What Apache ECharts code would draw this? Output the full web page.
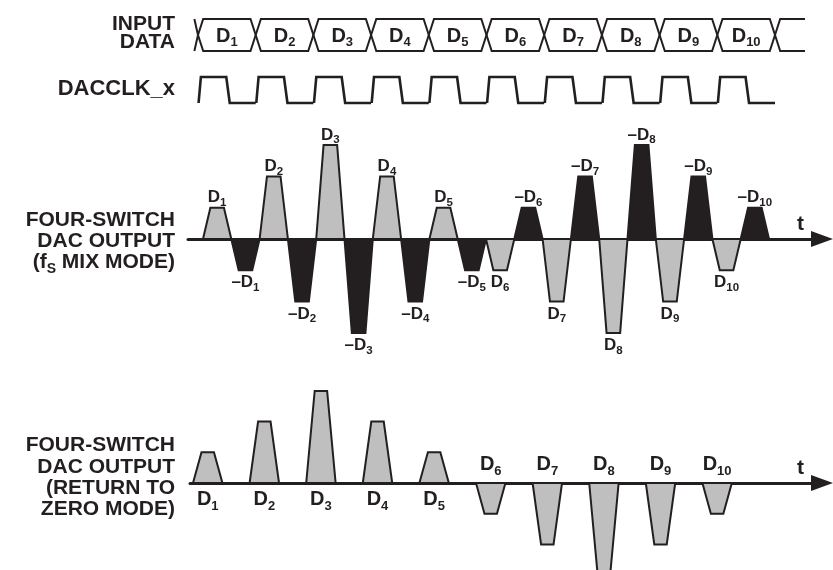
<!DOCTYPE html>
<html>
<head>
<meta charset="utf-8">
<script src="https://cdn.jsdelivr.net/npm/echarts@6/dist/echarts.min.js"></script>
<style>
html, body { margin: 0; padding: 0; background: #fff; }
#chart { width: 833px; height: 570px; }
</style>
</head>
<body>
<div id="chart"></div>
<script>
// data words D1..D10 and their relative DAC code (sign + height)
const wordIndex = ['1', '2', '3', '4', '5', '6', '7', '8', '9', '10'];
const wordCode = [1, 2, 3, 2, 1, -1, -2, -3, -2, -1];
const clockCycles = [0, 1, 2, 3, 4, 5, 6, 7, 8, 9];

const busLabel = ['INPUT', 'DATA'];
const clockLabel = 'DACCLK_x';
const mixLabel = ['FOUR-SWITCH', 'DAC OUTPUT', '{a|(f}{s|S}{a| MIX MODE)}'];
const rzLabel = ['FOUR-SWITCH', 'DAC OUTPUT', '(RETURN TO', 'ZERO MODE)'];
const timeName = 't';

const FONT = '"Liberation Sans", Arial, Helvetica, sans-serif';
const INK = '#231f20';
const GRAY = '#bfbfbf';

// pixel layout of the rows
const BUS_P = 57.7, MIX_P = 56.6;
const MIX_X0 = 203, RZ_X0 = 193;
const MIX_Y0 = 239, MIX_U = 31.3;
const RZ_Y0 = 483, RZ_U = 30.7;

const chart = echarts.init(document.getElementById('chart'));

function richFor(big, small, lh, shift) {
  return {
    m: { fontSize: big, fontWeight: 'bold', fontFamily: FONT, fill: INK, lineHeight: lh, verticalAlign: 'middle' },
    s: { fontSize: small, fontWeight: 'bold', fontFamily: FONT, fill: INK, lineHeight: lh - 2 * shift, verticalAlign: 'bottom' }
  };
}
const richBig = richFor(20, 13, 26, 3);
const richSmall = richFor(17, 11.5, 22, 2.5);

function line(points, width) {
  return { type: 'polyline', shape: { points: points }, style: { fill: 'none', stroke: INK, lineWidth: width, lineJoin: 'miter' } };
}

// input data bus
function renderBus(params, api) {
  const k = api.value(0);
  const d = 0.09;
  const c = (t, v) => api.coord([t, v]);
  const kids = [{
    type: 'polygon',
    shape: { points: [c(k, 0), c(k + d, 1), c(k + 1 - d, 1), c(k + 1, 0), c(k + 1 - d, -1), c(k + d, -1)] },
    style: { fill: 'none', stroke: INK, lineWidth: 2 }
  }];
  if (params.dataIndex === 0) {
    kids.push(line([c(-d * 0.7, 1), c(0, 0), c(-d * 0.7, -1)], 2));
  }
  if (params.dataIndex === wordIndex.length - 1) {
    kids.push(line([c(k + 1, 0), c(k + 1 + d, 1), c(k + 1.52, 1)], 2));
    kids.push(line([c(k + 1, 0), c(k + 1 + d, -1), c(k + 1.52, -1)], 2));
  }
  const p = c(k + 0.5, 0);
  kids.push({
    type: 'text', x: p[0], y: p[1] + 1,
    style: { text: '{m|D}{s|' + wordIndex[params.dataIndex] + '}', rich: richBig, align: 'center', verticalAlign: 'middle' }
  });
  return { type: 'group', children: kids };
}

// DAC clock, one cycle per item
function renderClock(params, api) {
  const k = api.value(0);
  const c = (t, v) => api.coord([t, v]);
  return line([c(k + 0.01, 0), c(k + 0.05, 1), c(k + 0.49, 1), c(k + 0.55, 0), c(k + 1, 0)], 2.6);
}

// fS mix mode: each word gives +Dn then -Dn
const mixPulses = [];
wordCode.forEach(function (v, k) {
  mixPulses.push([k, v, k, 0]);
  mixPulses.push([k + 0.5, -v, k, 1]);
});
const rzPulses = wordCode.map(function (v, k) { return [k, v, k]; });

function renderMix(params, api) {
  const t0 = api.value(0), v = api.value(1), k = api.value(2), inv = api.value(3);
  const w = 0.5, s = 0.13;
  const c = (t, y) => api.coord([t, y]);
  const p = c(t0 + w / 2, v);
  const txt = (inv ? '{m|\u2013D}' : '{m|D}') + '{s|' + wordIndex[k] + '}';
  return {
    type: 'group',
    children: [
      { type: 'polygon', shape: { points: [c(t0, 0), c(t0 + s, v), c(t0 + w - s, v), c(t0 + w, 0)] },
        style: { fill: inv ? INK : GRAY, stroke: INK, lineWidth: 2 } },
      { type: 'text', x: p[0], y: v > 0 ? p[1] - 10 : p[1] + 12.5,
        style: { text: txt, rich: richSmall, align: 'center', verticalAlign: 'middle' } }
    ]
  };
}

function renderRz(params, api) {
  const t0 = api.value(0), v = api.value(1), k = api.value(2);
  const w = 0.52, s = 0.15;
  const c = (t, y) => api.coord([t, y]);
  const p = c(t0 + w / 2, 0);
  return {
    type: 'group',
    children: [
      { type: 'polygon', shape: { points: [c(t0, 0), c(t0 + s, v), c(t0 + w - s, v), c(t0 + w, 0)] },
        style: { fill: GRAY, stroke: INK, lineWidth: 2 } },
      { type: 'text', x: p[0], y: v > 0 ? p[1] + 16.5 : p[1] - 18.5,
        style: { text: '{m|D}{s|' + wordIndex[k] + '}', rich: richBig, align: 'center', verticalAlign: 'middle' } }
    ]
  };
}

function timeAxis(gridIndex, left, x0) {
  return {
    gridIndex: gridIndex, type: 'value',
    min: (left - x0) / MIX_P, max: (822 - x0) / MIX_P,
    axisLine: { show: true, onZero: true, symbol: ['none', 'triangle'], symbolSize: [16, 22],
      lineStyle: { color: INK, width: 3 } },
    axisTick: { show: false }, axisLabel: { show: false }, splitLine: { show: false },
    name: timeName, nameLocation: 'end', nameGap: -25,
    nameTextStyle: { fontSize: 21, fontWeight: 'bold', fontFamily: FONT, color: INK,
      align: 'left', verticalAlign: 'bottom', padding: [0, 0, 4, 0] }
  };
}
const hiddenY = (gi, mn, mx) => ({ gridIndex: gi, type: 'value', min: mn, max: mx, show: false });

function labelText(str, x, y, size) {
  return {
    type: 'text', x: x, y: y, silent: true,
    style: {
      text: str, fontSize: size, fontWeight: 'bold', fontFamily: FONT, fill: INK,
      align: 'right', verticalAlign: 'middle',
      rich: {
        a: { fontSize: size, fontWeight: 'bold', fontFamily: FONT, fill: INK, lineHeight: 28, verticalAlign: 'middle' },
        s: { fontSize: 14, fontWeight: 'bold', fontFamily: FONT, fill: INK, lineHeight: 14, verticalAlign: 'bottom' }
      }
    }
  };
}

const graphics = [];
busLabel.forEach((s, i) => graphics.push(labelText(s, 175, 24 + i * 18.5, 21)));
graphics.push(labelText(clockLabel, 175, 89, 22));
mixLabel.forEach((s, i) => graphics.push(labelText(s, 175, 220.5 + i * 21, 21)));
rzLabel.forEach((s, i) => graphics.push(labelText(s, 175, 445.5 + i * 21.3, 21)));

chart.setOption({
  backgroundColor: '#fff',
  animation: false,
  grid: [
    { left: 198, top: 19, width: BUS_P * 10, height: 32, outerBoundsMode: 'none' },
    { left: 198, top: 77, width: BUS_P * 10, height: 26, outerBoundsMode: 'none' },
    { left: 188, top: MIX_Y0 - 3.5 * MIX_U, width: 822 - 188, height: 7 * MIX_U, outerBoundsMode: 'none' },
    { left: 190, top: RZ_Y0 - 3.5 * RZ_U, width: 822 - 190, height: 7 * RZ_U, outerBoundsMode: 'none' }
  ],
  xAxis: [
    { gridIndex: 0, type: 'value', min: 0, max: 10, show: false },
    { gridIndex: 1, type: 'value', min: 0, max: 10, show: false },
    timeAxis(2, 188, MIX_X0),
    timeAxis(3, 190, RZ_X0)
  ],
  yAxis: [hiddenY(0, -1, 1), hiddenY(1, 0, 1), hiddenY(2, -3.5, 3.5), hiddenY(3, -3.5, 3.5)],
  graphic: graphics,
  series: [
    { type: 'custom', xAxisIndex: 0, yAxisIndex: 0, renderItem: renderBus, silent: true,
      data: wordIndex.map((n, k) => [k, 0]) },
    { type: 'custom', xAxisIndex: 1, yAxisIndex: 1, renderItem: renderClock, silent: true,
      data: clockCycles.map(k => [k, 0]) },
    { type: 'custom', xAxisIndex: 2, yAxisIndex: 2, renderItem: renderMix, silent: true,
      data: mixPulses },
    { type: 'custom', xAxisIndex: 3, yAxisIndex: 3, renderItem: renderRz, silent: true,
      data: rzPulses }
  ]
});
</script>
</body>
</html>
